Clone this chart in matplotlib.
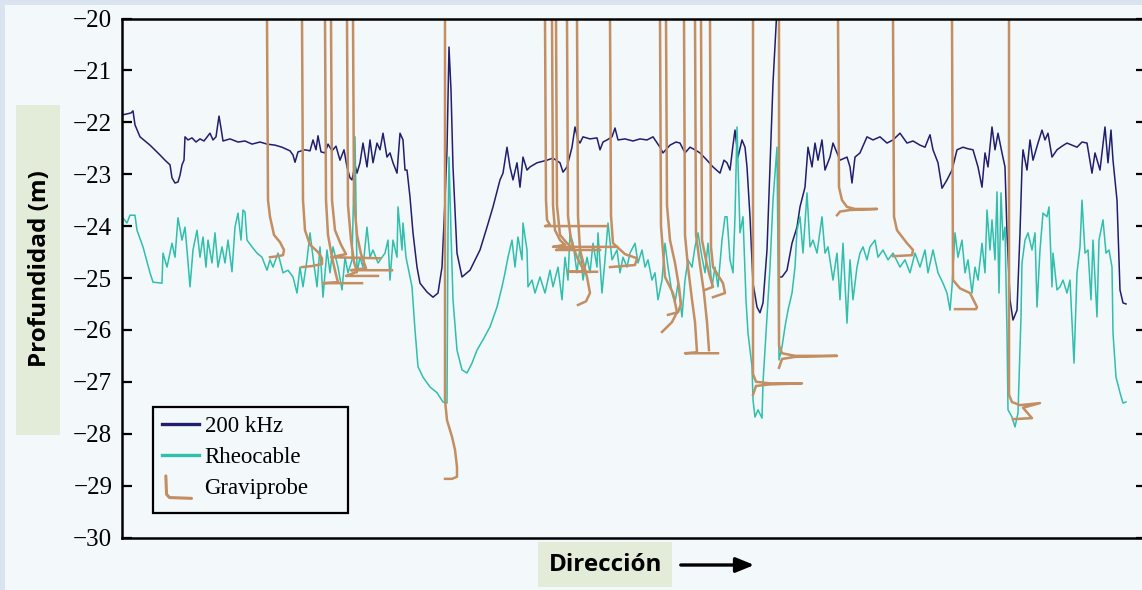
import matplotlib.pyplot as plt
from matplotlib.lines import Line2D
from matplotlib.patches import Rectangle

# distance along the track (arbitrary units, no axis labels) and depth in m
khz200_x = [0, 9, 11, 13, 18, 28, 38, 43, 48, 50, 53, 56, 58, 60, 62, 63, 66, 70, 74, 78,
            82, 86, 88, 91, 94, 97, 99, 101, 108, 116, 123, 130, 138, 145, 153, 160, 168, 171, 173, 176,
            183, 188, 191, 194, 196, 199, 203, 206, 210, 214, 218, 222, 225, 228, 230, 233, 235, 238, 241, 245,
            248, 251, 255, 258, 261, 265, 268, 271, 275, 278, 281, 283, 285, 288, 291, 295, 298, 305, 311, 316,
            320, 323, 325, 327, 329, 331, 335, 340, 348, 358, 365, 371, 378, 381, 385, 388, 391, 395, 398, 401,
            405, 408, 415, 425, 431, 438, 441, 445, 450, 453, 456, 458, 461, 468, 475, 478, 481, 485, 490, 493,
            496, 503, 511, 518, 525, 531, 538, 541, 548, 554, 558, 563, 568, 573, 578, 585, 591, 598, 602, 605,
            608, 611, 613, 616, 620, 623, 625, 628, 631, 635, 638, 641, 645, 648, 651, 655, 657, 657, 660, 665,
            670, 675, 678, 683, 686, 690, 693, 696, 700, 703, 708, 711, 715, 718, 725, 728, 730, 733, 738, 745,
            751, 758, 765, 771, 778, 785, 791, 798, 803, 808, 811, 816, 820, 825, 830, 835, 841, 846, 851, 856,
            860, 863, 866, 870, 873, 876, 880, 883, 885, 888, 891, 895, 898, 900, 901, 905, 908, 911, 916, 920,
            923, 926, 930, 935, 940, 945, 950, 955, 960, 965, 970, 973, 978, 983, 986, 989, 991, 995, 998, 1001,
            1004]
khz200_d = [-21.86, -21.82, -21.78, -22.05, -22.28, -22.44, -22.63, -22.73, -22.82, -23.07, -23.17, -23.15, -23.02, -22.82, -22.73, -22.28, -22.34, -22.30, -22.38, -22.32,
            -22.36, -22.26, -22.21, -22.34, -22.28, -21.88, -22.11, -22.36, -22.32, -22.38, -22.36, -22.42, -22.38, -22.42, -22.44, -22.48, -22.55, -22.63, -22.77, -22.57,
            -22.53, -22.55, -22.34, -22.53, -22.26, -22.57, -22.59, -22.42, -22.55, -22.46, -22.73, -22.53, -22.86, -23.07, -23.11, -22.82, -22.98, -22.78, -22.40, -22.86,
            -22.34, -22.78, -22.40, -22.53, -22.21, -22.67, -22.59, -22.78, -22.98, -22.21, -22.34, -22.92, -22.92, -23.44, -24.13, -24.79, -25.10, -25.27, -25.37, -25.29,
            -24.79, -23.50, -22.53, -20.55, -21.38, -22.86, -24.52, -24.98, -24.85, -24.46, -24.02, -23.63, -23.11, -22.98, -22.48, -22.86, -23.11, -22.78, -23.25, -22.67,
            -22.92, -22.86, -22.78, -22.73, -22.69, -22.78, -22.96, -22.86, -22.48, -22.09, -22.34, -22.40, -22.28, -22.32, -22.30, -22.53, -22.38, -22.34, -22.28, -22.11,
            -22.34, -22.32, -22.36, -22.32, -22.34, -22.28, -22.48, -22.59, -22.44, -22.38, -22.40, -22.59, -22.48, -22.53, -22.59, -22.73, -22.86, -22.98, -22.73, -22.78,
            -22.92, -22.44, -22.15, -22.67, -22.34, -22.48, -22.86, -23.82, -25.10, -25.56, -25.67, -25.48, -24.46, -22.86, -21.24, -19.80, -19.80, -24.98, -24.98, -24.85,
            -24.33, -24.02, -23.63, -23.25, -22.48, -22.86, -22.40, -22.73, -22.34, -22.92, -22.67, -22.40, -22.59, -22.73, -22.67, -22.86, -23.17, -22.67, -22.59, -22.28,
            -22.34, -22.28, -22.40, -22.34, -22.21, -22.40, -22.36, -22.44, -22.48, -22.24, -22.53, -22.78, -23.27, -23.11, -22.92, -22.53, -22.48, -22.51, -22.53, -22.86,
            -23.25, -22.59, -22.86, -22.09, -22.53, -22.21, -22.59, -22.86, -24.13, -25.42, -25.81, -25.62, -24.13, -22.86, -22.53, -22.92, -22.34, -22.73, -22.40, -22.15,
            -22.34, -22.21, -22.67, -22.53, -22.46, -22.40, -22.44, -22.48, -22.38, -22.40, -22.98, -22.59, -22.92, -22.09, -22.78, -22.15, -22.73, -23.50, -25.23, -25.48,
            -25.50]

rheo_x = [0, 5, 8, 13, 15, 21, 28, 31, 40, 41, 45, 50, 53, 56, 60, 63, 65, 68, 71, 75,
          78, 81, 84, 86, 90, 93, 96, 100, 103, 106, 110, 113, 116, 119, 121, 123, 125, 130, 135, 140,
          145, 148, 151, 156, 161, 166, 171, 175, 178, 181, 185, 188, 191, 195, 198, 201, 205, 208, 211, 216,
          220, 223, 226, 230, 233, 235, 238, 241, 245, 248, 251, 256, 260, 263, 266, 268, 271, 275, 276, 280,
          281, 284, 286, 290, 293, 296, 301, 308, 315, 321, 325, 326, 327, 329, 331, 335, 340, 345, 350, 355,
          361, 368, 375, 380, 383, 386, 390, 393, 396, 400, 401, 405, 406, 410, 413, 418, 423, 428, 431, 436,
          440, 443, 446, 448, 451, 455, 458, 461, 465, 468, 471, 475, 476, 480, 483, 486, 490, 495, 498, 501,
          505, 508, 513, 516, 520, 523, 526, 530, 533, 536, 540, 543, 546, 550, 553, 556, 560, 563, 566, 570,
          573, 576, 580, 583, 586, 590, 593, 596, 600, 603, 605, 608, 611, 613, 615, 618, 621, 624, 626, 630,
          631, 633, 636, 640, 641, 645, 648, 651, 655, 657, 660, 663, 666, 670, 673, 675, 678, 681, 685, 688,
          691, 695, 700, 703, 706, 711, 715, 718, 721, 725, 728, 731, 735, 738, 741, 745, 748, 753, 756, 761,
          766, 771, 778, 783, 788, 793, 798, 803, 806, 811, 816, 821, 825, 828, 830, 833, 836, 840, 843, 846,
          850, 853, 856, 860, 863, 865, 868, 870, 873, 875, 877, 879, 881, 883, 885, 886, 890, 893, 896, 899,
          900, 903, 906, 910, 913, 915, 918, 921, 925, 927, 930, 931, 935, 938, 941, 945, 948, 952, 955, 958,
          960, 963, 966, 969, 971, 975, 977, 981, 984, 987, 990, 991, 994, 998, 1001, 1004]
rheo_d = [-23.82, -23.94, -23.79, -23.79, -24.08, -24.40, -24.90, -25.08, -25.10, -24.52, -24.79, -24.33, -24.60, -23.84, -24.27, -24.02, -24.46, -25.17, -24.46, -24.08,
          -24.60, -24.21, -24.79, -24.27, -24.71, -24.13, -24.79, -24.40, -24.71, -24.27, -24.88, -24.02, -23.75, -24.27, -23.69, -23.73, -24.27, -24.40, -24.52, -24.60,
          -24.85, -24.65, -24.79, -24.52, -24.90, -24.85, -24.98, -25.29, -24.79, -25.17, -24.65, -24.13, -24.60, -25.17, -24.40, -25.37, -24.46, -24.90, -24.40, -24.79,
          -25.23, -24.60, -24.90, -24.65, -22.28, -24.90, -24.60, -24.79, -24.02, -24.60, -24.46, -24.71, -24.60, -24.52, -24.27, -25.04, -24.27, -24.60, -23.63, -24.46,
          -23.94, -24.60, -24.79, -25.17, -26.00, -26.71, -26.91, -27.10, -27.21, -27.39, -27.41, -24.13, -22.67, -24.13, -25.42, -26.39, -26.77, -26.83, -26.64, -26.39,
          -26.19, -25.94, -25.56, -25.17, -24.90, -24.60, -24.27, -24.79, -24.21, -24.65, -23.94, -24.46, -25.17, -25.04, -25.29, -24.98, -25.29, -24.85, -25.17, -24.79,
          -25.42, -24.60, -25.04, -24.13, -24.33, -24.90, -24.40, -25.04, -24.60, -24.90, -24.33, -24.79, -24.13, -25.29, -24.65, -23.94, -24.65, -24.46, -24.90, -24.60,
          -24.79, -24.52, -24.33, -24.71, -24.46, -24.79, -24.65, -25.04, -24.90, -25.42, -25.04, -24.33, -24.79, -25.29, -25.48, -25.10, -25.75, -25.04, -24.65, -24.79,
          -24.40, -24.13, -24.60, -24.90, -24.33, -25.17, -24.79, -25.17, -24.27, -23.82, -23.82, -24.65, -24.90, -23.82, -22.09, -24.13, -23.82, -25.42, -26.06, -26.71,
          -27.35, -27.68, -27.54, -27.70, -27.02, -25.75, -24.79, -23.50, -22.48, -26.58, -26.33, -25.94, -25.62, -25.29, -24.79, -24.08, -23.82, -24.52, -23.36, -24.40,
          -24.27, -24.52, -23.82, -24.52, -24.40, -25.04, -24.52, -25.42, -24.33, -25.87, -24.65, -25.42, -24.79, -24.52, -24.40, -24.65, -24.40, -24.27, -24.60, -24.46,
          -24.65, -24.52, -24.79, -24.65, -24.90, -24.52, -24.79, -24.46, -24.90, -24.46, -24.90, -25.10, -25.29, -25.62, -25.17, -24.13, -24.60, -24.27, -24.90, -24.65,
          -25.29, -24.79, -25.04, -24.33, -24.90, -23.69, -24.46, -23.88, -24.65, -23.34, -25.29, -23.36, -24.27, -24.02, -26.06, -27.54, -27.68, -27.87, -27.60, -25.75,
          -24.71, -24.27, -24.13, -24.46, -24.13, -25.56, -24.46, -23.75, -23.82, -23.63, -25.17, -24.52, -25.23, -25.17, -25.04, -25.29, -25.04, -26.64, -24.90, -24.40,
          -23.50, -24.52, -24.46, -25.42, -24.27, -25.75, -24.27, -23.88, -24.52, -24.46, -24.79, -26.06, -26.91, -27.21, -27.41, -27.39]

# graviprobe casts: one profile per drop (x, depth)
gravi_x = [
    [145, 146, 148, 152, 158, 162, 161, 156, 148],
    [180, 181, 183, 188, 196, 200, 200, 190, 180],
    [203, 204, 206, 210, 214, 216, 201, 240],
    [209, 210, 213, 219, 224, 209, 258],
    [225, 226, 229, 232, 235, 224, 256],
    [231, 232, 235, 239, 244, 229, 270],
    [323, 323, 323, 325, 330, 333, 335, 335, 330, 323],
    [423, 424, 425, 428, 423, 485],
    [430, 431, 433, 438, 443, 431, 495],
    [434, 435, 438, 445, 451, 434, 478],
    [445, 446, 449, 455, 460, 462, 446, 475],
    [455, 456, 458, 465, 468, 464, 456],
    [488, 489, 491, 503, 515, 513, 488],
    [538, 539, 543, 551, 555, 550, 540],
    [544, 545, 548, 553, 557, 559, 556, 546],
    [562, 563, 566, 570, 573, 575, 563, 596],
    [573, 574, 578, 582, 585, 587],
    [579, 580, 585, 588, 591, 583],
    [588, 589, 591, 601, 603, 591],
    [631, 631, 634, 648, 680, 648, 634, 631],
    [657, 657, 660, 673, 715, 673, 660, 657],
    [716, 717, 720, 725, 733, 755, 728, 718, 715],
    [771, 772, 775, 785, 791, 790, 771],
    [830, 831, 838, 848, 855, 854, 833],
    [887, 887, 890, 898, 918, 901, 910, 891],
]
gravi_d = [
    [-20, -23.50, -23.82, -24.17, -24.31, -24.46, -24.56, -24.58, -24.60],
    [-20, -23.50, -24.08, -24.36, -24.50, -24.62, -24.73, -24.77, -24.79],
    [-20, -23.50, -24.17, -24.60, -24.94, -25.08, -25.10, -25.10],
    [-20, -23.50, -24.08, -24.36, -24.54, -24.60, -24.62],
    [-20, -23.60, -24.27, -24.69, -24.88, -24.96, -24.96],
    [-20, -23.50, -24.17, -24.54, -24.81, -24.85, -24.85],
    [-20, -26.00, -27.35, -27.74, -28.06, -28.31, -28.64, -28.83, -28.87, -28.87],
    [-20, -23.50, -23.88, -23.98, -24.00, -24.00],
    [-20, -23.60, -24.08, -24.27, -24.36, -24.40, -24.40],
    [-20, -23.60, -24.17, -24.33, -24.42, -24.46, -24.46],
    [-20, -23.80, -24.27, -24.60, -24.79, -24.88, -24.88, -24.88],
    [-20, -23.80, -24.46, -24.98, -25.29, -25.45, -25.52],
    [-20, -23.80, -24.33, -24.54, -24.62, -24.75, -24.79],
    [-20, -24.00, -24.98, -25.29, -25.66, -25.85, -26.04],
    [-20, -23.60, -24.27, -24.71, -25.17, -25.50, -25.66, -25.71],
    [-20, -24.17, -24.79, -25.42, -25.85, -26.43, -26.45, -26.45],
    [-20, -24.17, -24.75, -25.29, -25.85, -26.39],
    [-20, -24.27, -24.75, -24.98, -25.17, -25.23],
    [-20, -24.40, -24.79, -25.10, -25.29, -25.37],
    [-20, -26.85, -27.00, -27.03, -27.03, -27.05, -27.08, -27.25],
    [-20, -26.30, -26.45, -26.50, -26.50, -26.52, -26.56, -26.73],
    [-20, -23.25, -23.50, -23.63, -23.67, -23.67, -23.69, -23.72, -23.79],
    [-20, -23.82, -24.08, -24.33, -24.46, -24.56, -24.58],
    [-20, -25.04, -25.20, -25.29, -25.56, -25.60, -25.60],
    [-20, -27.25, -27.39, -27.45, -27.41, -27.50, -27.70, -27.72],
]

series_labels = ["200 kHz", "Rheocable", "Graviprobe"]
yticks = [-20, -21, -22, -23, -24, -25, -26, -27, -28, -29, -30]

navy = "#221e6e"
teal = "#2fbfac"
brown = "#c38e61"
bg = "#f3f8fa"

fig = plt.figure(figsize=(11.42, 5.90), dpi=100, facecolor="#dae3f0")
fig.patches.append(Rectangle((5 / 1142, 0), 1, 585 / 590, transform=fig.transFigure,
                             facecolor=bg, edgecolor="none", zorder=-10))
# green label boxes
fig.patches.append(Rectangle((16 / 1142, 1 - 435 / 590), 44 / 1142, 330 / 590,
                             transform=fig.transFigure, facecolor="#e2ecd8", edgecolor="none"))
fig.patches.append(Rectangle((538 / 1142, 1 - 587 / 590), 134 / 1142, 45 / 590,
                             transform=fig.transFigure, facecolor="#e2ecd8", edgecolor="none"))

ax = fig.add_axes([122 / 1142, 52.5 / 590, 1024 / 1142, 519 / 590])
ax.set_facecolor(bg)

ax.plot(khz200_x, khz200_d, color=navy, lw=1.1)
ax.plot(rheo_x, rheo_d, color=teal, lw=1.1)
for gx, gd in zip(gravi_x, gravi_d):
    ax.plot(gx, gd, color=brown, lw=1.8, solid_joinstyle="round")

ax.set_xlim(0, 1024)
ax.set_ylim(-30, -20)
ax.set_yticks(yticks)
ax.tick_params(axis="y", direction="in", length=7, width=1.6, left=True, right=True,
               labelsize=18, pad=7)
ax.tick_params(axis="x", bottom=False, labelbottom=False)
for lab in ax.get_yticklabels():
    lab.set_fontfamily("Liberation Serif")
for side in ["top", "bottom", "left"]:
    ax.spines[side].set_linewidth(1.8)
ax.spines["right"].set_visible(False)


class LHandler:
    def legend_artist(self, legend, orig_handle, fontsize, handlebox):
        w, h = handlebox.width, handlebox.height
        x0, y0 = -handlebox.xdescent, -handlebox.ydescent
        line = Line2D([x0 + 0.1 * w, x0 + 0.12 * w, x0 + 0.2 * w, x0 + 0.8 * w],
                      [y0 + 1.1 * h, y0 - 0.05 * h, y0 - 0.25 * h, y0 - 0.3 * h],
                      color=brown, lw=2.2, solid_capstyle="round")
        handlebox.add_artist(line)
        return line


# legend frame drawn separately: it is wider than its text in the original
ax.add_patch(Rectangle((31 / 1024, (537.5 - 513) / 519), 195 / 1024, 106 / 519,
                       transform=ax.transAxes, facecolor=bg, edgecolor="black",
                       lw=1.6, zorder=4.9))
h1 = Line2D([], [], color=navy, lw=2.4)
h2 = Line2D([], [], color=teal, lw=2.4)
h3 = Line2D([], [], color=brown, lw=2.2)
leg = ax.legend([h1, h2, h3], series_labels, handler_map={h3: LHandler()},
                loc="upper left", bbox_to_anchor=(31 / 1024, (537.5 - 407) / 519),
                borderaxespad=0, frameon=False, handlelength=1.6, handletextpad=0.25,
                labelspacing=0.42, borderpad=0.4,
                prop={"family": "Liberation Serif", "size": 16.5})
leg.set_zorder(6)

fig.text(40 / 1142, 1 - 269 / 590, "Profundidad (m)", rotation=90, ha="center", va="center",
         fontsize=17.5, fontweight="bold", family="Open Sans")
fig.text(606 / 1142, 1 - 565 / 590, "Dirección", ha="center", va="center",
         fontsize=17.5, fontweight="bold", family="Open Sans")
ax.annotate("", xy=(757 / 1142, 1 - 565 / 590), xytext=(678 / 1142, 1 - 565 / 590),
            xycoords="figure fraction", textcoords="figure fraction",
            arrowprops=dict(arrowstyle="-|>,head_length=1.1,head_width=0.45", color="black", lw=2.4))

fig.savefig("out.png", dpi=100, facecolor=fig.get_facecolor())
